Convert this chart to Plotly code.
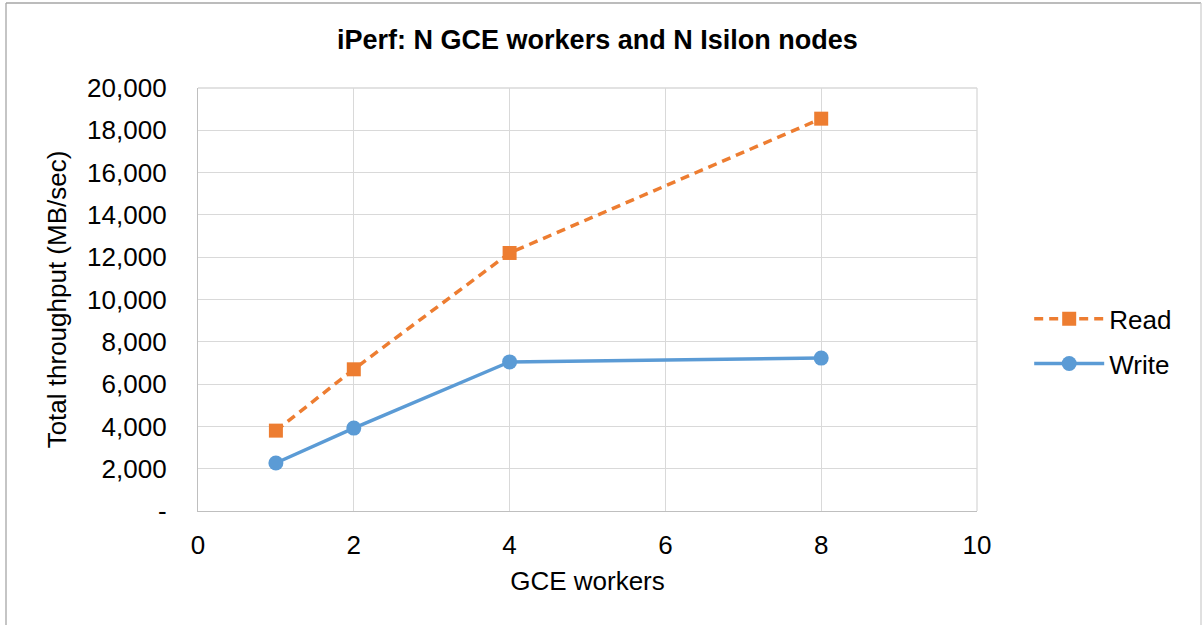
import plotly.graph_objects as go

workers = [1, 2, 4, 8]
read_mbps = [3800, 6700, 12200, 18550]
write_mbps = [2270, 3920, 7050, 7230]

x_ticks = [0, 2, 4, 6, 8, 10]
y_ticks = [0, 2000, 4000, 6000, 8000, 10000, 12000, 14000, 16000, 18000, 20000]
y_ticktext = ["-" if v == 0 else f"{v:,}" for v in y_ticks]

FONT = "Liberation Sans, Arial, sans-serif"
ORANGE = "#ED7D31"
BLUE = "#5B9BD5"
FS = 26

fig = go.Figure()
fig.add_trace(go.Scatter(
    x=workers, y=read_mbps, name="Read", mode="lines+markers",
    line=dict(color=ORANGE, width=3.5, dash="9px,6px"),
    marker=dict(symbol="square", size=14, color=ORANGE),
    legendgroup="r",
))
fig.add_trace(go.Scatter(
    x=workers, y=write_mbps, name="Write", mode="lines+markers",
    line=dict(color=BLUE, width=3.5),
    marker=dict(symbol="circle", size=15, color=BLUE),
    legendgroup="w",
))

fig.update_layout(
    width=1202, height=625,
    margin=dict(l=198, r=225, t=88, b=114),
    paper_bgcolor="white", plot_bgcolor="white",
    font=dict(family=FONT, size=FS, color="black"),
    title=dict(text="<b>iPerf: N GCE workers and N Isilon nodes</b>",
               x=0.497, xanchor="center", y=1 - 40 / 625, yanchor="middle",
               font=dict(size=27, family=FONT)),
    legend=dict(x=1.067, xanchor="left", y=0.51, yanchor="top",
                font=dict(size=FS), itemwidth=70, tracegroupgap=8,
                bgcolor="rgba(0,0,0,0)"),
    xaxis=dict(range=[0, 10], tickvals=x_ticks, showgrid=True,
               gridcolor="#D9D9D9", gridwidth=1.3, zeroline=False,
               showline=True, linecolor="#BFBFBF", linewidth=1.3,
               ticks="", ticklabelstandoff=11,
               tickfont=dict(size=FS),
               title=dict(text="GCE workers", standoff=12,
                          font=dict(size=FS))),
    yaxis=dict(range=[0, 20000], tickvals=y_ticks, ticktext=y_ticktext,
               showgrid=True, gridcolor="#D9D9D9", gridwidth=1.3,
               zeroline=False, showline=True, linecolor="#BFBFBF",
               linewidth=1.3, ticks="", ticklabelstandoff=25,
               tickfont=dict(size=FS),
               title=dict(text="Total throughput (MB/sec)", standoff=13,
                          font=dict(size=FS))),
)

# plot-area right and top edges
fig.add_shape(type="line", xref="paper", yref="paper", x0=1, x1=1, y0=0, y1=1,
              line=dict(color="#D9D9D9", width=1.3))
fig.add_shape(type="line", xref="paper", yref="paper", x0=0, x1=1, y0=1, y1=1,
              line=dict(color="#D9D9D9", width=1.3))

# outer chart border (top, left, right edges visible in reference)
fig.add_shape(type="line", xref="paper", yref="paper",
              x0=(6 - 198) / 779, x1=(6 - 198) / 779, y0=(511 - 700) / 423, y1=(511 - 3) / 423,
              line=dict(color="#A6A6A6", width=1.3))
fig.add_shape(type="line", xref="paper", yref="paper",
              x0=(6 - 198) / 779, x1=(1201 - 198) / 779, y0=(511 - 3) / 423, y1=(511 - 3) / 423,
              line=dict(color="#A6A6A6", width=1.3))
fig.add_shape(type="line", xref="paper", yref="paper",
              x0=(1201 - 198) / 779, x1=(1201 - 198) / 779, y0=(511 - 700) / 423, y1=(511 - 3) / 423,
              line=dict(color="#D0D0D0", width=1.3))

fig.write_html("out.html", config={"displayModeBar": False},
               post_script="document.body.style.margin='0';")
